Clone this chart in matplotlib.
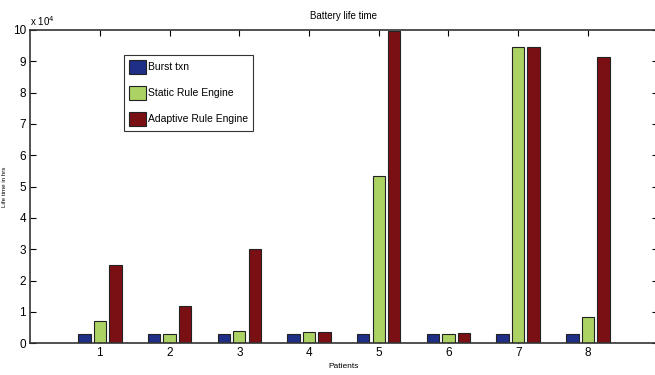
import matplotlib.pyplot as plt
import numpy as np

plt.rcParams['font.family'] = ['Liberation Sans Narrow', 'Liberation Sans', 'DejaVu Sans']

patients = [1, 2, 3, 4, 5, 6, 7, 8]
burst = [2800, 2800, 2800, 2800, 2800, 2800, 2800, 2800]
static_rule = [7000, 2800, 3800, 3700, 53500, 3000, 94500, 8200]
adaptive_rule = [25000, 12000, 30200, 3600, 99800, 3100, 94500, 91500]
labels = ['Burst txn', 'Static Rule Engine', 'Adaptive Rule Engine']
colors = ['#1f2e86', '#acd264', '#7b1014']

fig = plt.figure(figsize=(6.55, 3.75), dpi=100)
ax = fig.add_axes([0.046, 0.085, 0.958, 0.835])
ax.set_axisbelow(True)

x = np.array(patients)
step = 0.222
width = 0.178
for i, (vals, lab, col) in enumerate(zip([burst, static_rule, adaptive_rule], labels, colors)):
    ax.bar(x + (i - 1) * step, vals, width, color=col, edgecolor='#222222', linewidth=0.8, label=lab)

ax.set_xlim(0, 9)
ax.set_ylim(0, 100000)
ax.set_xticks(patients)
ax.set_yticks(np.arange(0, 100001, 10000))
ax.set_yticklabels([str(v) for v in range(0, 11)])
ax.tick_params(direction='in', top=True, right=True, labelsize=8.5, length=4, width=0.8, pad=3)
for sp in ax.spines.values():
    sp.set_linewidth(1.2)
    sp.set_color('#333333')
    sp.set_zorder(3)

ax.text(0.0, 1.005, r'x 10$^4$', transform=ax.transAxes, fontsize=7, ha='left', va='bottom')
ax.set_title('Battery life time', fontsize=7, pad=8)
ax.set_xlabel('Patients', fontsize=6, labelpad=3)
ax.set_ylabel('Life time in hrs', fontsize=4.5, labelpad=4)

leg = ax.legend(loc='upper left', bbox_to_anchor=(0.15, 0.92), fontsize=7.5, frameon=True,
                fancybox=False, edgecolor='black', handlelength=1.6, handleheight=1.77,
                handletextpad=0.25, labelspacing=1.1, borderpad=0.45, borderaxespad=0)
leg.get_frame().set_linewidth(0.8)

fig.savefig('out.png', dpi=100)
